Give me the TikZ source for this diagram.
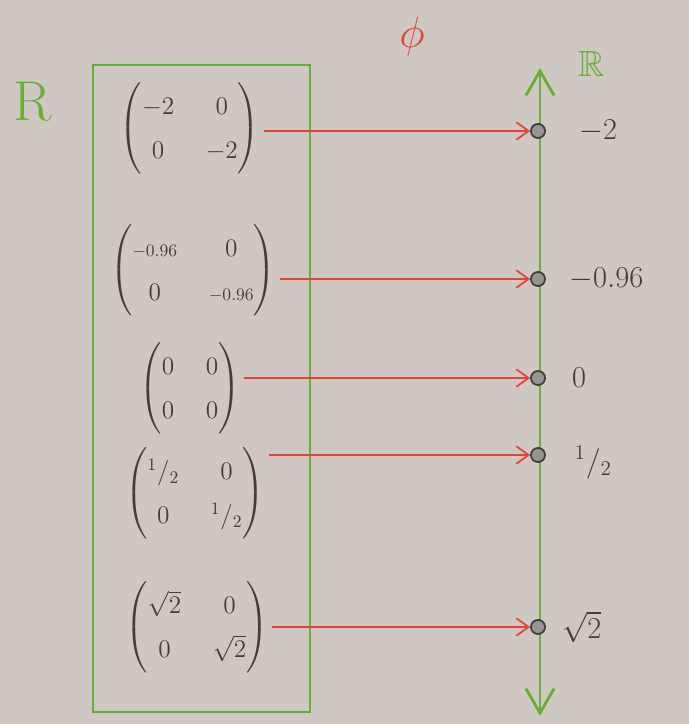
\documentclass[tikz,border=0pt]{standalone}
\usepackage{amsmath,amssymb}
\usetikzlibrary{arrows.meta,positioning}
\definecolor{papier}{RGB}{206,199,194}
\definecolor{vert}{RGB}{105,175,55}
\definecolor{rouge}{RGB}{228,68,55}
\definecolor{crayon}{RGB}{65,62,60}

\begin{document}
\begin{tikzpicture}[x=0.02cm, y=-0.02cm,
    mat/.style={text=crayon, font=\Large, inner sep=2pt},
    pt/.style={circle, draw=crayon, fill=crayon!55, line width=1pt, inner sep=0pt, minimum size=8pt},
    etiq/.style={text=crayon, font=\LARGE},
    fleche/.style={-{Straight Barb[length=7pt,width=10pt]}, rouge, line width=1pt}]
    % Fond
    \fill[papier] (0,0) rectangle (689,724);
    \useasboundingbox (0,0) rectangle (689,724);

    % Ensemble de depart
    \draw[vert, line width=1.6pt] (93,65) rectangle (310,712);
    \node[text=vert, font=\fontsize{32}{36}\selectfont] (R) at (33,102) {R};

    % Matrices
    \renewcommand{\arraystretch}{1.4}
    \setlength{\arraycolsep}{9pt}
    \node[mat] (M1) at (190,128) {$\begin{pmatrix} -2 & 0 \\ 0 & -2 \end{pmatrix}$};
    \node[mat] (M2) at (193,270) {$\begin{pmatrix} \scriptstyle -0.96 & 0 \\ 0 & \scriptstyle -0.96 \end{pmatrix}$};
    \node[mat] (M3) at (190,388) {$\begin{pmatrix} 0 & 0 \\ 0 & 0 \end{pmatrix}$};
    \node[mat] (M4) at (195,493) {$\begin{pmatrix} {}^1/{}_2 & 0 \\ 0 & {}^1/{}_2 \end{pmatrix}$};
    \node[mat] (M5) at (197,627) {$\begin{pmatrix} \sqrt{2} & 0 \\ 0 & \sqrt{2} \end{pmatrix}$};

    % Axe reel
    \coordinate (haut) at (540,68);
    \coordinate (bas) at (540,716);
    \draw[{Straight Barb[length=14pt,width=16pt]}-{Straight Barb[length=14pt,width=16pt]}, vert, line width=1.6pt] (bas) -- (haut);
    \node[text=vert, font=\huge] (Rbb) at (592,64) {$\mathbb{R}$};
    \node[text=rouge, font=\Huge] (phi) at (412,37) {$\phi$};

    % Images
    \node[pt] (P1) at (538,131) {};
    \node[pt] (P2) at (538,279) {};
    \node[pt] (P3) at (538,378) {};
    \node[pt] (P4) at (538,455) {};
    \node[pt] (P5) at (538,627) {};
    \node[etiq, right=0.55cm of P1] (L1) {$-2$};
    \node[etiq, right=0.35cm of P2] (L2) {$-0.96$};
    \node[etiq, right=0.4cm of P3] (L3) {$0$};
    \node[etiq, right=0.45cm of P4, yshift=-0.15cm] (L4) {${}^1/{}_2$};
    \node[etiq, right=0.2cm of P5] (L5) {$\sqrt{2}$};

    % Fleches
    \draw[fleche] (M1.east |- P1) -- (P1.west);
    \draw[fleche] (M2.east |- P2) -- (P2.west);
    \draw[fleche] (M3.east |- P3) -- (P3.west);
    \draw[fleche] (M4.east |- P4) -- (P4.west);
    \draw[fleche] (M5.east |- P5) -- (P5.west);
\end{tikzpicture}
\end{document}
